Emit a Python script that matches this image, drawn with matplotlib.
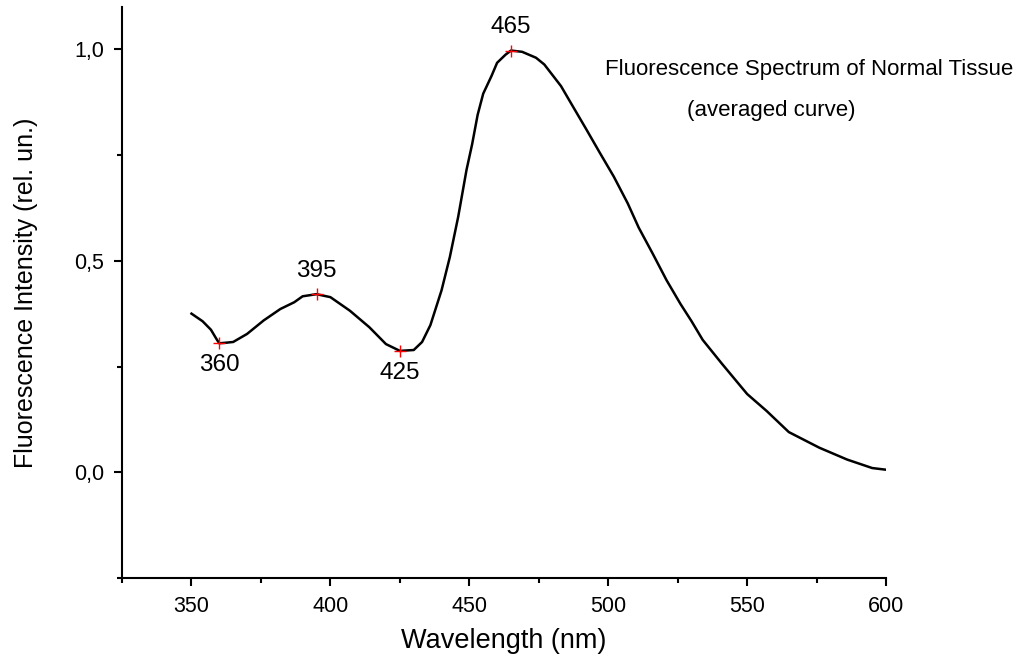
import matplotlib
matplotlib.use("Agg")
import matplotlib.pyplot as plt
from matplotlib.ticker import FixedLocator

plt.rcParams['font.family'] = ['Liberation Sans', 'DejaVu Sans']

# averaged spectrum
wavelength = [350, 354, 357, 359, 360, 362, 365, 370, 376, 382, 387, 390, 395,
              400, 407, 414, 420, 425, 430, 433, 436, 440, 443, 446, 449, 451,
              453, 455, 458, 460, 463, 465, 469, 474, 477, 483, 487, 492, 497,
              502, 507, 511, 516, 521, 526, 530, 534, 541, 550, 557, 565, 576,
              586, 595, 600]
intensity = [0.375, 0.357, 0.337, 0.315, 0.305, 0.306, 0.308, 0.327, 0.359,
             0.386, 0.402, 0.416, 0.421, 0.414, 0.382, 0.343, 0.303, 0.287,
             0.289, 0.308, 0.348, 0.430, 0.509, 0.604, 0.715, 0.775, 0.845,
             0.895, 0.937, 0.968, 0.987, 0.997, 0.994, 0.980, 0.964, 0.913,
             0.868, 0.812, 0.755, 0.699, 0.636, 0.578, 0.517, 0.454, 0.398,
             0.357, 0.313, 0.256, 0.185, 0.145, 0.095, 0.058, 0.030, 0.010,
             0.006]

peak_x = [360, 395, 425, 465]
peak_y = [0.305, 0.421, 0.287, 0.997]
peak_lbl = ['360', '395', '425', '465']
peak_below = [True, False, True, False]

yticks = [0.0, 0.5, 1.0]
ytick_lbl = ['0,0', '0,5', '1,0']

fig = plt.figure(figsize=(10.16, 6.64), dpi=100)
ax = fig.add_axes([0.1201, 0.1295, 0.752, 0.86])

ax.plot(wavelength, intensity, color='black', lw=1.8)
ax.plot(peak_x, peak_y, '+', color='red', ms=9, mew=1.0)
for x, y, s, below in zip(peak_x, peak_y, peak_lbl, peak_below):
    if below:
        ax.annotate(s, (x, y), xytext=(0, -8), textcoords='offset points',
                    ha='center', va='top', fontsize=17.5)
    else:
        ax.annotate(s, (x, y), xytext=(0, 9), textcoords='offset points',
                    ha='center', va='bottom', fontsize=17.5)

ax.text(0.796, 0.8946, 'Fluorescence Spectrum of Normal Tissue',
        transform=fig.transFigure, ha='center', va='center', fontsize=16)
ax.text(0.759, 0.833, '(averaged curve)',
        transform=fig.transFigure, ha='center', va='center', fontsize=16)

ax.set_xlim(325, 600)
ax.set_ylim(-0.25, 1.1)
ax.set_xticks([350, 400, 450, 500, 550, 600])
ax.xaxis.set_minor_locator(FixedLocator([325, 375, 425, 475, 525, 575]))
ax.set_yticks(yticks)
ax.set_yticklabels(ytick_lbl)
ax.yaxis.set_minor_locator(FixedLocator([-0.25, 0.25, 0.75]))

ax.spines['top'].set_visible(False)
ax.spines['right'].set_visible(False)
for sp in ['left', 'bottom']:
    ax.spines[sp].set_linewidth(1.5)
ax.tick_params(which='major', direction='out', length=6, width=1.5, labelsize=15.5, pad=7)
ax.tick_params(which='minor', direction='out', length=3.5, width=1.5)

ax.set_xlabel('Wavelength (nm)', fontsize=19.5, labelpad=8)
ax.set_ylabel('Fluorescence Intensity (rel. un.)', fontsize=18, labelpad=26)

fig.savefig('out.png', dpi=100)
